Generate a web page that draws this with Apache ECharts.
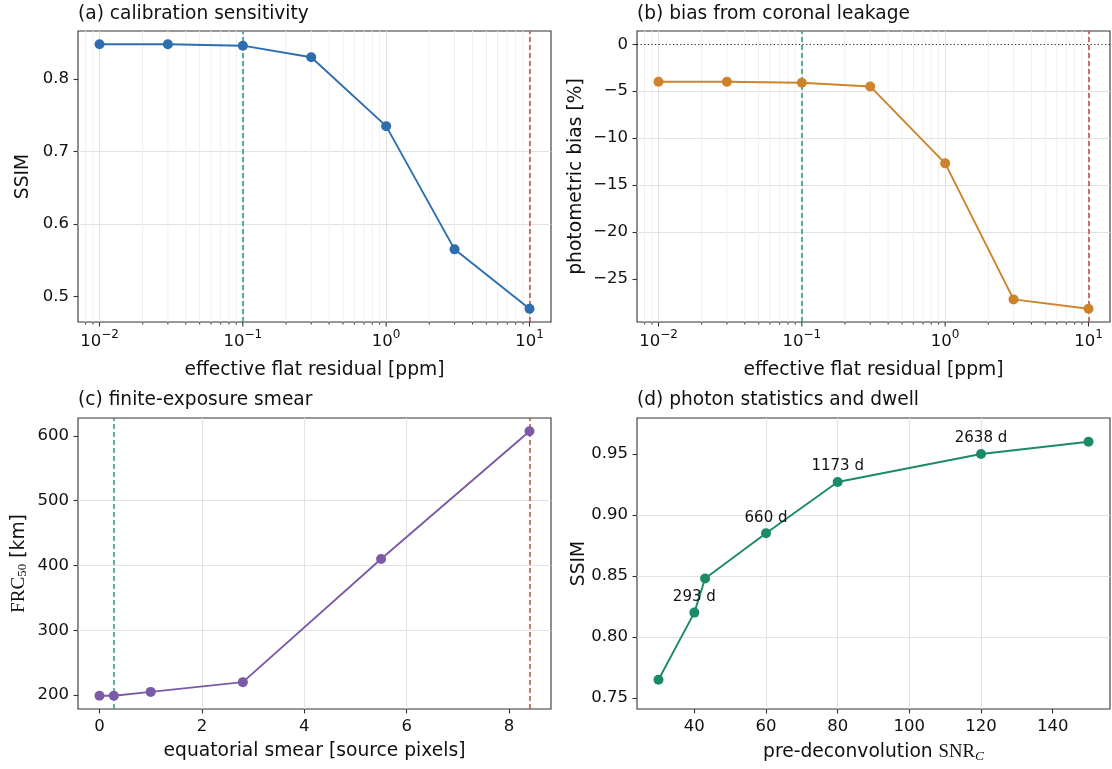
<!DOCTYPE html>
<html>
<head>
<meta charset="utf-8">
<script src="https://cdn.jsdelivr.net/npm/echarts@6/dist/echarts.min.js"></script>
<style>
  html, body { margin: 0; padding: 0; background: #ffffff; }
  #chart { width: 1112px; height: 769px; }
</style>
</head>
<body>
<div id="chart"></div>
<script>
// ---- (a) / (b): flat-field residual sweep ----
const flatResidual = [0.01, 0.03, 0.1, 0.3, 1, 3, 10];
const ssimFlat = [0.848, 0.848, 0.846, 0.830, 0.735, 0.565, 0.483];
const biasFlat = [-4.0, -4.0, -4.1, -4.5, -12.7, -27.2, -28.2];
const flatRequirement = 0.1;
const flatCurrent = 10;

// ---- (c): finite-exposure smear ----
const smearPixels = [0, 0.28, 1, 2.8, 5.5, 8.4];
const frc50 = [199, 199, 205, 220, 410, 607];
const smearRequirement = 0.28;
const smearCurrent = 8.4;

// ---- (d): photon statistics and dwell ----
const snrC = [30, 40, 43, 60, 80, 120, 150];
const ssimSnr = [0.765, 0.820, 0.848, 0.885, 0.927, 0.950, 0.960];
const dwellLabels = ['', '293 d', '', '660 d', '1173 d', '2638 d', ''];

// ---- tick positions ----
const logMajorTicks = [0.01, 0.1, 1, 10];
const logMinorTicks = [0.008, 0.009,
  0.02, 0.03, 0.04, 0.05, 0.06, 0.07, 0.08, 0.09,
  0.2, 0.3, 0.4, 0.5, 0.6, 0.7, 0.8, 0.9,
  2, 3, 4, 5, 6, 7, 8, 9];
const ticksAy = [0.5, 0.6, 0.7, 0.8];
const ticksBy = [-25, -20, -15, -10, -5, 0];
const ticksCx = [0, 2, 4, 6, 8];
const ticksCy = [200, 300, 400, 500, 600];
const ticksDx = [40, 60, 80, 100, 120, 140];
const ticksDy = [0.75, 0.80, 0.85, 0.90, 0.95];
const limitsDy = [0.741, 0.9795];

// ---- colours ----
const C_BLUE = '#2d6db0';
const C_ORANGE = '#cd832c';
const C_PURPLE = '#7b5aa8';
const C_GREEN = '#1b8a68';
const C_REQ = '#2a9a76';
const C_CUR = '#c1473d';
const TXT = '#111111';
const SPINE = '#333333';
const GRID_MAJOR = '#e2e2e2';
const GRID_MINOR = '#efefef';
const SANS = 'DejaVu Sans';
const SERIF = 'Liberation Serif';

const TICK_FS = 16.5;
const NAME_FS = 18.7;
const TITLE_FS = 18.6;

// padded extents, 5% on each side
function padLinear(vals, extra) {
  const all = vals.concat(extra || []);
  const lo = Math.min(...all), hi = Math.max(...all);
  const d = (hi - lo) * 0.05;
  return [lo - d, hi + d];
}
function padLog(vals) {
  const lo = Math.log10(Math.min(...vals)), hi = Math.log10(Math.max(...vals));
  const d = (hi - lo) * 0.05;
  return [Math.pow(10, lo - d), Math.pow(10, hi + d)];
}

function logLabel(v) {
  const e = Math.round(Math.log10(v));
  return '{b|10}{s|' + String(e).replace('-', '−') + '}';
}

const gridsPos = [
  { left: 78, top: 31 },
  { left: 637, top: 31 },
  { left: 78, top: 418 },
  { left: 637, top: 418 }
];
const GW = 473, GH = 291;

const grids = gridsPos.map(p => ({
  left: p.left, top: p.top, width: GW, height: GH,
  show: true, borderColor: SPINE, borderWidth: 1.1,
  backgroundColor: 'transparent',
  containLabel: false, outerBoundsMode: 'none'
}));

function linearAxis(gridIndex, ticks, ext, fmt, name, nameGap, isY, nameExtra) {
  return Object.assign({
    type: 'value', gridIndex,
    position: isY ? 'left' : 'bottom',
    min: ext[0], max: ext[1],
    splitNumber: isY ? 5 : 6,
    axisLine: { show: false, onZero: false },
    axisTick: { show: true, customValues: ticks, length: 4.5, inside: false,
      lineStyle: { color: SPINE, width: 1.1 } },
    axisLabel: { show: true, customValues: ticks, formatter: fmt, margin: 9,
      color: TXT, fontSize: TICK_FS, fontFamily: SANS },
    splitLine: { show: true, showMinLine: false, showMaxLine: false,
      lineStyle: { color: GRID_MAJOR, width: 1 } },
    name, nameLocation: 'middle', nameGap, nameMoveOverlap: false,
    nameTextStyle: { color: TXT, fontSize: NAME_FS, fontFamily: SANS }
  }, nameExtra || {});
}

function logAxis(gridIndex, ext, name, nameGap) {
  return {
    type: 'log', logBase: 10, gridIndex, position: 'bottom',
    min: ext[0], max: ext[1],
    axisLine: { show: false, onZero: false },
    axisTick: { show: false },
    axisLabel: { show: true, showMinLabel: false, showMaxLabel: false,
      formatter: logLabel, margin: 8, color: TXT, fontFamily: SANS,
      rich: {
        b: { fontSize: TICK_FS, fontFamily: SANS, color: TXT, lineHeight: 20, verticalAlign: 'bottom' },
        s: { fontSize: 12, fontFamily: SANS, color: TXT, lineHeight: 13, verticalAlign: 'bottom', padding: [0, 0, 9, 0] }
      } },
    splitLine: { show: true, showMinLine: false, showMaxLine: false,
      lineStyle: { color: GRID_MAJOR, width: 1 } },
    name, nameLocation: 'middle', nameGap, nameMoveOverlap: false,
    nameTextStyle: { color: TXT, fontSize: NAME_FS, fontFamily: SANS }
  };
}

// minor grid lines + outward tick marks for a log x axis
function logTickSeries(idx, values, yExt, major) {
  return {
    type: 'custom', xAxisIndex: idx, yAxisIndex: idx,
    silent: true, clip: false, z: 1,
    data: values.map(v => [v, yExt[0]]),
    renderItem(params, api) {
      const x = api.value(0);
      const b = api.coord([x, yExt[0]]);
      const t = api.coord([x, yExt[1]]);
      const children = [];
      if (!major) {
        children.push({ type: 'line', shape: { x1: b[0], y1: b[1], x2: t[0], y2: t[1] },
          style: { stroke: GRID_MINOR, lineWidth: 1 } });
      }
      children.push({ type: 'line',
        shape: { x1: b[0], y1: b[1], x2: b[0], y2: b[1] + (major ? 4.5 : 2.6) },
        style: { stroke: SPINE, lineWidth: major ? 1.1 : 0.9 } });
      return { type: 'group', children };
    }
  };
}

function vLines(a, b) {
  return {
    silent: true, symbol: ['none', 'none'], label: { show: false },
    lineStyle: { type: [5, 3], width: 1.5 },
    emphasis: { disabled: true },
    data: [
      { xAxis: a, lineStyle: { color: C_REQ, type: [5, 3], width: 1.5 } },
      { xAxis: b, lineStyle: { color: C_CUR, type: [5, 3], width: 1.5 } }
    ]
  };
}

function lineSeries(idx, xs, ys, color, extra) {
  return Object.assign({
    type: 'line', xAxisIndex: idx, yAxisIndex: idx, z: 5,
    data: xs.map((x, i) => [x, ys[i]]),
    symbol: 'circle', symbolSize: 10, showSymbol: true,
    lineStyle: { color, width: 1.9 },
    itemStyle: { color },
    emphasis: { disabled: true },
    animation: false
  }, extra || {});
}

const extAx = padLog(flatResidual);
const extAy = padLinear(ssimFlat);
const extBy = padLinear(biasFlat, [0]);
const extCx = padLinear(smearPixels);
const extCy = padLinear(frc50);
const extDx = padLinear(snrC);

const fmt1 = v => v.toFixed(1);
const fmt2 = v => v.toFixed(2);
const fmtInt = v => String(Math.round(v)).replace('-', '−');

const titles = [
  { text: '(a) calibration sensitivity', left: 78, top: 5 },
  { text: '(b) bias from coronal leakage', left: 637, top: 5 },
  { text: '(c) finite-exposure smear', left: 78, top: 391 },
  { text: '(d) photon statistics and dwell', left: 637, top: 391 }
].map(t => Object.assign(t, { padding: 0,
  textStyle: { color: TXT, fontSize: TITLE_FS, fontWeight: 'normal', fontFamily: SANS } }));

const option = {
  animation: false,
  backgroundColor: '#ffffff',
  title: titles,
  grid: grids,
  xAxis: [
    logAxis(0, extAx, 'effective flat residual [ppm]', 39),
    logAxis(1, extAx, 'effective flat residual [ppm]', 39),
    linearAxis(2, ticksCx, extCx, fmtInt, 'equatorial smear [source pixels]', 33, false),
    linearAxis(3, ticksDx, extDx, fmtInt, 'pre-deconvolution {r|SNR}{i|C}', 32, false, {
      nameTextStyle: { color: TXT, fontSize: NAME_FS, fontFamily: SANS,
        rich: {
          r: { fontSize: NAME_FS, fontFamily: SERIF, color: TXT },
          i: { fontSize: 13.5, fontFamily: SERIF, fontStyle: 'italic', color: TXT,
               verticalAlign: 'top', padding: [8, 0, 0, 0] }
        } }
    })
  ],
  yAxis: [
    linearAxis(0, ticksAy, extAy, fmt1, 'SSIM', 45, true),
    linearAxis(1, ticksBy, extBy, fmtInt, 'photometric bias [%]', 51, true),
    linearAxis(2, ticksCy, extCy, fmtInt, '{r|FRC}{u|50} [km]', 49, true, {
      nameTextStyle: { color: TXT, fontSize: NAME_FS, fontFamily: SANS,
        rich: {
          r: { fontSize: NAME_FS + 0.5, fontFamily: SERIF, color: TXT },
          u: { fontSize: 13, fontFamily: SERIF, color: TXT, verticalAlign: 'top', padding: [7, 0, 0, 0] }
        } }
    }),
    linearAxis(3, ticksDy, limitsDy, fmt2, 'SSIM', 48, true)
  ],
  series: [
    logTickSeries(0, logMinorTicks, extAy, false),
    logTickSeries(0, logMajorTicks, extAy, true),
    lineSeries(0, flatResidual, ssimFlat, C_BLUE, { markLine: vLines(flatRequirement, flatCurrent) }),

    logTickSeries(1, logMinorTicks, extBy, false),
    logTickSeries(1, logMajorTicks, extBy, true),
    lineSeries(1, flatResidual, biasFlat, C_ORANGE, {
      markLine: (function () {
        const m = vLines(flatRequirement, flatCurrent);
        m.data.push({ yAxis: 0, lineStyle: { color: '#222222', type: [1.2, 2.4], width: 1.2 } });
        return m;
      })()
    }),

    lineSeries(2, smearPixels, frc50, C_PURPLE, { markLine: vLines(smearRequirement, smearCurrent) }),

    lineSeries(3, snrC, ssimSnr, C_GREEN, {
      label: { show: true, position: 'top', distance: 3,
        formatter: p => dwellLabels[p.dataIndex],
        color: TXT, fontSize: 15, fontFamily: SANS }
    })
  ]
};

const chart = echarts.init(document.getElementById('chart'), null, { renderer: 'canvas' });
chart.setOption(option);
</script>
</body>
</html>
